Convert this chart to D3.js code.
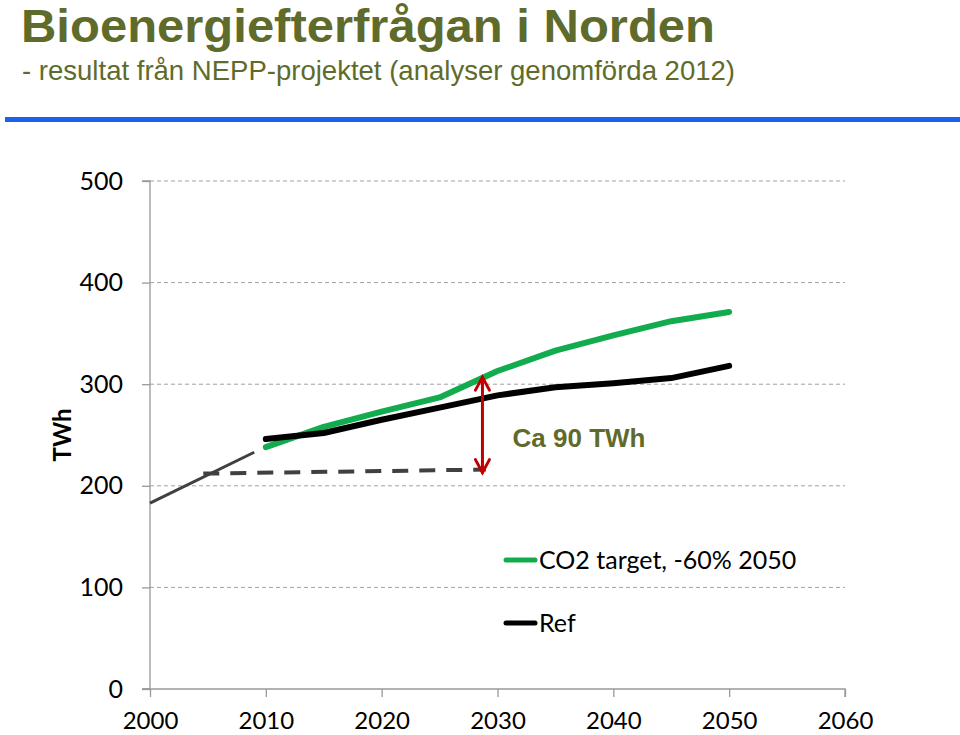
<!DOCTYPE html>
<html><head><meta charset="utf-8">
<script src="https://cdn.jsdelivr.net/npm/d3@7"></script>
<style>body{margin:0;background:#fff}svg{display:block}</style>
</head><body>
<script>
const years = [2010, 2015, 2020, 2025, 2030, 2035, 2040, 2045, 2050];
const co2Target = [238, 258, 273, 287, 313, 333, 348, 362, 371];
const refSeries = [246, 252, 265, 277, 289, 297, 301, 306, 318];
const historyYears = [2000, 2009];
const historyVals = [183, 233];
const baseYears = [2004.6, 2029];
const baseVals = [212, 216];
const arrowYear = 2028.7;
const arrowVals = [213, 307];
const yTicks = [0, 100, 200, 300, 400, 500];
const xTicks = [2000, 2010, 2020, 2030, 2040, 2050, 2060];
const legendLabels = ["CO2 target, -60% 2050", "Ref"];
const title = "Bioenergiefterfrågan i Norden";
const subtitle = "- resultat från NEPP-projektet (analyser genomförda 2012)";
const annotation = "Ca 90 TWh";
const yLabel = "TWh";

const W = 960, H = 735;
const svg = d3.select("body").append("svg").attr("width", W).attr("height", H);
const x = d3.scaleLinear().domain([2000, 2060]).range([150, 845]);
const y = d3.scaleLinear().domain([0, 500]).range([689, 181]);
const olive = "#5f6b2a";
const tickFont = "Lato, 'Open Sans', sans-serif";

// title
svg.append("text").attr("x", 21).attr("y", 42).text(title)
  .attr("font-family", "'Liberation Sans', Arial, sans-serif").attr("font-weight", "bold")
  .attr("font-size", 47).attr("fill", olive).attr("textLength", 694).attr("lengthAdjust", "spacingAndGlyphs");
svg.append("text").attr("x", 22).attr("y", 80).text(subtitle)
  .attr("font-family", "'Liberation Sans', Arial, sans-serif")
  .attr("font-size", 28).attr("fill", olive).attr("textLength", 713).attr("lengthAdjust", "spacingAndGlyphs");
svg.append("rect").attr("x", 5).attr("y", 117).attr("width", 955).attr("height", 5).attr("fill", "#1a62ee");

// grid
const grid = svg.append("g");
yTicks.filter(d => d > 0).forEach(v => {
  grid.append("line").attr("x1", x(2000)).attr("x2", x(2060)).attr("y1", y(v)).attr("y2", y(v))
    .attr("stroke", "#a0a0a0").attr("stroke-width", 1).attr("stroke-dasharray", "4,3");
});

// axes
const yAxis = d3.axisLeft(y).tickValues(yTicks).tickSize(8).tickPadding(19).tickFormat(d3.format("d"));
const gy = svg.append("g").attr("transform", `translate(${x(2000)},0)`).call(yAxis);
const xAxis = d3.axisBottom(x).tickValues(xTicks).tickSize(8).tickPadding(14).tickFormat(d3.format("d"));
const gx = svg.append("g").attr("transform", `translate(0,${y(0)})`).call(xAxis);
[gx, gy].forEach(g => {
  g.select(".domain").attr("stroke", "#999").attr("stroke-width", 1.3);
  g.selectAll(".tick line").attr("stroke", "#999").attr("stroke-width", 1.3);
  g.selectAll(".tick text").attr("font-family", tickFont).attr("font-size", 25).attr("fill", "#000");
});
gy.select(".domain").attr("d", `M-8,${y(500)}H0V${y(0)}H-8`);
gx.select(".domain").attr("d", `M${x(2000)-8},0H${x(2060)}V8`);
gx.selectAll(".tick text").attr("font-size", 24).attr("y", 40).attr("dy", 0);

svg.append("text").attr("transform", `translate(71,435) rotate(-90)`).attr("text-anchor", "middle")
  .text(yLabel).attr("font-family", tickFont).attr("font-weight", "bold").attr("font-size", 24).attr("fill", "#000");

// lines
const line = d3.line().x(d => x(d[0])).y(d => y(d[1]));
svg.append("path").datum(historyYears.map((d, i) => [d, historyVals[i]])).attr("d", line)
  .attr("fill", "none").attr("stroke", "#404040").attr("stroke-width", 3);
svg.append("path").datum(baseYears.map((d, i) => [d, baseVals[i]])).attr("d", line)
  .attr("fill", "none").attr("stroke", "#404040").attr("stroke-width", 4).attr("stroke-dasharray", "16,11");
svg.append("path").datum(years.map((d, i) => [d, co2Target[i]])).attr("d", line)
  .attr("fill", "none").attr("stroke", "#12ac4f").attr("stroke-width", 6).attr("stroke-linecap", "round").attr("stroke-linejoin", "round");
svg.append("path").datum(years.map((d, i) => [d, refSeries[i]])).attr("d", line)
  .attr("fill", "none").attr("stroke", "#000").attr("stroke-width", 6).attr("stroke-linecap", "round").attr("stroke-linejoin", "round");

// arrow
const ax = x(arrowYear), ay1 = y(arrowVals[0]), ay2 = y(arrowVals[1]);
const red = "#c00000";
const ag = svg.append("g").attr("stroke", red).attr("stroke-width", 3).attr("fill", "none").attr("stroke-linecap", "round");
ag.append("line").attr("x1", ax).attr("x2", ax).attr("y1", ay1).attr("y2", ay2);
ag.append("path").attr("d", `M${ax-7},${ay2+13}L${ax},${ay2}L${ax+7},${ay2+13}`);
ag.append("path").attr("d", `M${ax-7},${ay1-13}L${ax},${ay1}L${ax+7},${ay1-13}`);

svg.append("text").attr("x", x(2031.3)).attr("y", y(238)).text(annotation)
  .attr("font-family", "'Liberation Sans', Arial, sans-serif").attr("font-weight", "bold")
  .attr("font-size", 26).attr("fill", olive);

// legend
const legColors = ["#12ac4f", "#000"];
const legY = [560, 623];
legendLabels.forEach((t, i) => {
  svg.append("line").attr("x1", 506).attr("x2", 535).attr("y1", legY[i]).attr("y2", legY[i])
    .attr("stroke", legColors[i]).attr("stroke-width", 5).attr("stroke-linecap", "round");
  svg.append("text").attr("x", 539).attr("y", legY[i] + 9).text(t)
    .attr("font-family", tickFont).attr("font-size", 25).attr("fill", "#000");
});
</script>
</body></html>
